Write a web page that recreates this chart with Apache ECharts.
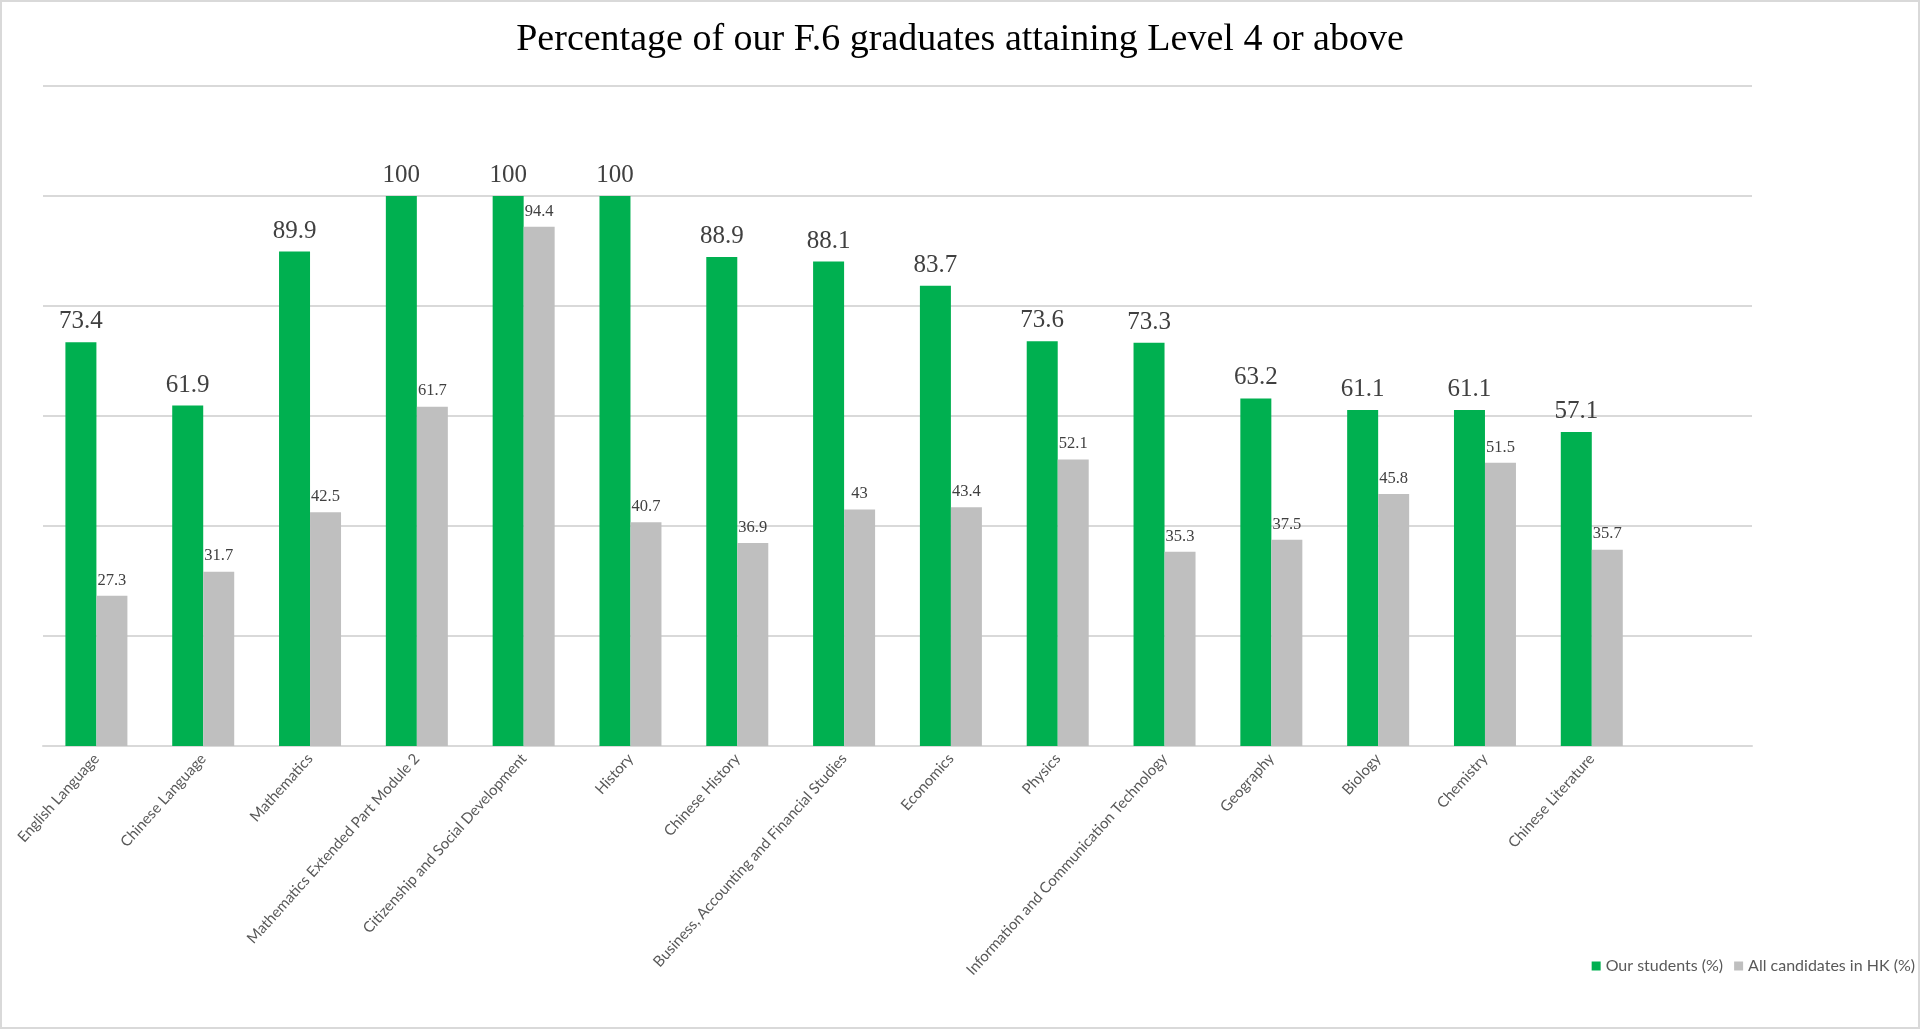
<!DOCTYPE html>
<html>
<head>
<meta charset="utf-8">
<title>Percentage of our F.6 graduates attaining Level 4 or above</title>
<script src="https://cdn.jsdelivr.net/npm/echarts@6/dist/echarts.min.js"></script>
<style>
  html, body { margin: 0; padding: 0; background: #fff; }
  #chart { width: 1920px; height: 1029px; }
  #frame {
    position: absolute; left: 0; top: 0;
    width: 1920px; height: 1029px; box-sizing: border-box;
    border: 2px solid #d9d9d9; pointer-events: none;
  }
</style>
</head>
<body>
<div id="chart"></div>
<div id="frame"></div>
<script>
// Subjects (the last slot is left empty, as in the original sheet)
var subjects = [
    'English Language', 'Chinese Language', 'Mathematics',
    'Mathematics Extended Part Module 2', 'Citizenship and Social Development',
    'History', 'Chinese History', 'Business, Accounting and Financial Studies',
    'Economics', 'Physics', 'Information and Communication Technology',
    'Geography', 'Biology', 'Chemistry', 'Chinese Literature', ''
];

// Percentage attaining Level 4 or above
var ourStudents = [73.4, 61.9, 89.9, 100, 100, 100, 88.9, 88.1, 83.7, 73.6, 73.3, 63.2, 61.1, 61.1, 57.1];
var allCandidates = [27.3, 31.7, 42.5, 61.7, 94.4, 40.7, 36.9, 43, 43.4, 52.1, 35.3, 37.5, 45.8, 51.5, 35.7];

var seriesNames = ['Our students (%)', 'All candidates in HK (%)'];

var chart = echarts.init(document.getElementById('chart'));

var option = {
    animation: false,
    backgroundColor: '#ffffff',
    title: {
        text: 'Percentage of our F.6 graduates attaining Level 4 or above',
        left: 'center',
        top: 16,
        textStyle: {
            fontFamily: 'Liberation Serif',
            fontSize: 38,
            fontWeight: 'normal',
            color: '#000000'
        }
    },
    legend: {
        data: seriesNames,
        orient: 'horizontal',
        right: 5,
        top: 958,
        padding: 0,
        icon: 'rect',
        itemWidth: 9,
        itemHeight: 9,
        itemGap: 11,
        textStyle: {
            fontFamily: 'Lato',
            fontSize: 16,
            color: '#595959'
        }
    },
    grid: {
        left: 43,
        right: 168,
        top: 86,
        bottom: 283,
        containLabel: false
    },
    xAxis: {
        type: 'category',
        data: subjects,
        axisLine: { lineStyle: { color: '#d9d9d9', width: 2 } },
        axisTick: { show: false },
        axisLabel: {
            rotate: 48,
            interval: 0,
            margin: 10,
            fontFamily: 'Lato',
            fontSize: 15,
            color: '#595959'
        }
    },
    yAxis: {
        type: 'value',
        min: 0,
        max: 120,
        interval: 20,
        axisLabel: { show: false },
        axisLine: { show: false },
        axisTick: { show: false },
        splitLine: { lineStyle: { color: '#d9d9d9', width: 2 } }
    },
    series: [
        {
            name: seriesNames[0],
            type: 'bar',
            data: ourStudents,
            barWidth: 31,
            barGap: '0%',
            itemStyle: { color: '#00b050' },
            label: {
                show: true,
                position: 'top',
                distance: 8,
                fontFamily: 'Liberation Serif',
                fontSize: 25,
                color: '#404040'
            }
        },
        {
            name: seriesNames[1],
            type: 'bar',
            data: allCandidates,
            barWidth: 31,
            barGap: '0%',
            itemStyle: { color: '#bfbfbf' },
            label: {
                show: true,
                position: 'top',
                distance: 7,
                fontFamily: 'Liberation Serif',
                fontSize: 16.5,
                color: '#404040'
            }
        }
    ]
};

chart.setOption(option);
</script>
</body>
</html>
